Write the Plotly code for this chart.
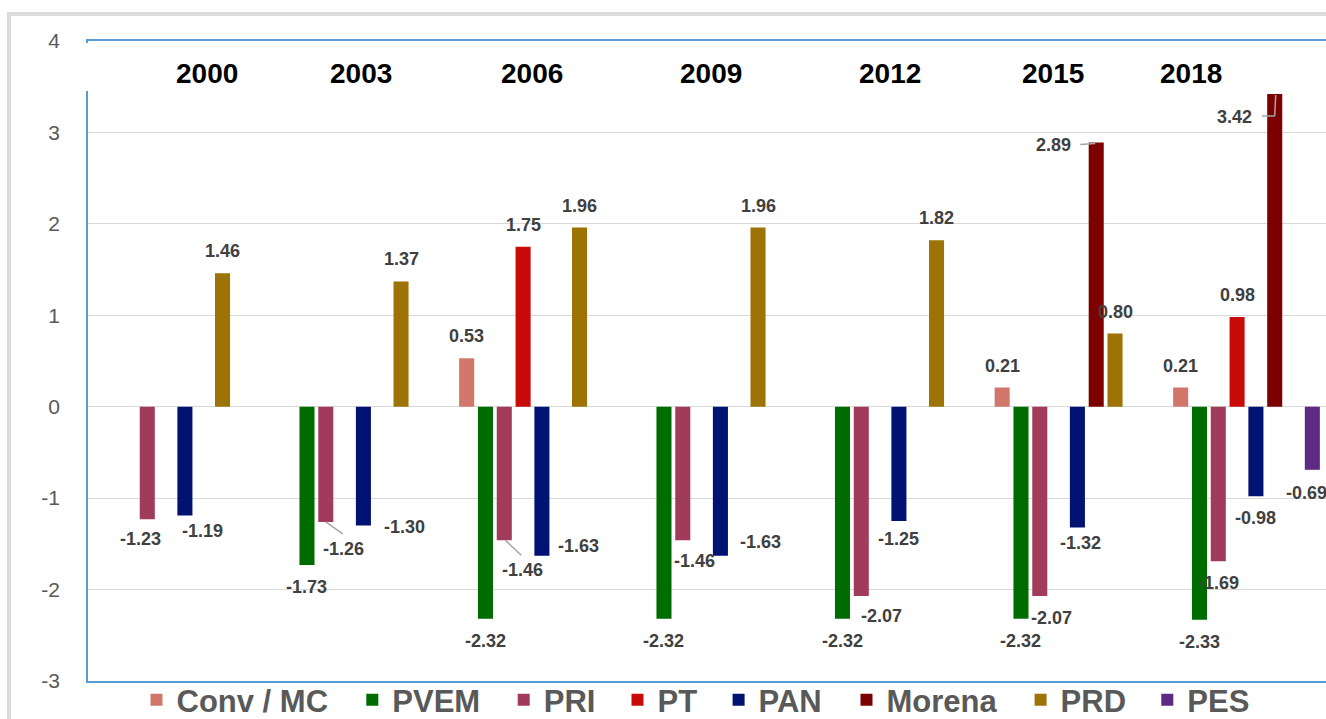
import plotly.graph_objects as go

# ---------------- data ----------------
years = ["2000", "2003", "2006", "2009", "2012", "2015", "2018"]
parties = ["Conv / MC", "PVEM", "PRI", "PT", "PAN", "Morena", "PRD", "PES"]

conv_mc = [None, None, 0.53, None, None, 0.21, 0.21]
pvem = [None, -1.73, -2.32, -2.32, -2.32, -2.32, -2.33]
pri = [-1.23, -1.26, -1.46, -1.46, -2.07, -2.07, -1.69]
pt = [None, None, 1.75, None, None, None, 0.98]
pan = [-1.19, -1.30, -1.63, -1.63, -1.25, -1.32, -0.98]
morena = [None, None, None, None, None, 2.89, 3.42]
prd = [1.46, 1.37, 1.96, 1.96, 1.82, 0.80, None]
pes = [None, None, None, None, None, None, -0.69]

series = [conv_mc, pvem, pri, pt, pan, morena, prd, pes]
y_ticks = [-3, -2, -1, 0, 1, 2, 3, 4]

# ---------------- styles / layout ----------------
colors = ["#d0766a", "#006c00", "#a13b5b", "#c90a0a", "#001272", "#7d0000", "#9c7304", "#5e2a84"]
FONT = "Liberation Sans, Arial, sans-serif"
W, H = 1326, 719
ML, MT, MB, MR = 88, 41, 38, 0
PLOT_W = W - ML - MR
PLOT_H = H - MT - MB
BAND = 178.5                 # px per category
FIRST_CENTER = 175.5         # px of first category centre
BARGAP = 0.157
BARGROUPGAP = 0.2
SLOT = (1 - BARGAP) / len(parties)

x0 = (ML - FIRST_CENTER) / BAND
x1 = x0 + PLOT_W / BAND


def py(p):  # pixel y -> paper y
    return (H - MB - p) / PLOT_H


def px(p):  # pixel x -> paper x
    return (p - ML) / PLOT_W


# legend entry positions (px of the colour square centre)
legend_square_x = [158.5, 374.3, 525.7, 639.5, 740.6, 868.5, 1042.6, 1169.3]
LEGEND_TOP = 673

# year label horizontal shifts (px) relative to category centre
year_label_shift = [31, 6.5, -0.5, 0, 0.5, -15, -55.5]

# data-label offsets (px; dx right, dy down from bar end); default +-22 vertical
DEFAULT_DY = 22
label_offsets = {
    ("PRI", "2000"): (-7, 20),
    ("PAN", "2000"): (18, 15),
    ("PRI", "2003"): (18, 27),
    ("PAN", "2003"): (41, 1),
    ("PRI", "2006"): (18, 30),
    ("PAN", "2006"): (37, -10),
    ("PRI", "2009"): (12, 21),
    ("PAN", "2009"): (40, -14),
    ("PRI", "2012"): (20, 20),
    ("PAN", "2012"): (0, 18),
    ("PRI", "2015"): (12, 22),
    ("PAN", "2015"): (3, 16),
    ("Morena", "2015"): (-43, 3),
    ("Morena", "2018"): (-40, 23),
    ("PES", "2018"): (-6, 23),
}
# leader lines: list of segments (dx0, dy0, dx1, dy1) in px from bar end
leaders = {
    ("PRI", "2003"): [(0, 0, 17, 12)],
    ("PRI", "2006"): [(1, 0, 17, 15)],
    ("Morena", "2015"): [(-1, 1, -16, 2)],
    ("Morena", "2018"): [(1, 1, 0, 22), (0, 22, -13, 22)],
}

fig = go.Figure()
legend_layouts = {}
for i, (name, vals, col) in enumerate(zip(parties, series, colors)):
    lg = "legend" if i == 0 else f"legend{i + 1}"
    fig.add_trace(go.Bar(
        x=years, y=vals, name=name, legend=lg,
        marker=dict(color=col, line=dict(width=0)),
        hovertemplate="%{x} " + name + ": %{y:.2f}<extra></extra>",
    ))
    legend_layouts[lg] = dict(
        orientation="h", x=px(legend_square_x[i] - 22), xanchor="left",
        y=py(LEGEND_TOP), yanchor="top",
        font=dict(family=FONT, size=31, color="#595959", weight="bold"),
        bgcolor="rgba(0,0,0,0)", borderwidth=0, itemwidth=30,
        itemclick=False, itemdoubleclick=False,
    )

annotations = []
shapes = []

# data labels
for i, (name, vals) in enumerate(zip(parties, series)):
    for k, (yr, v) in enumerate(zip(years, vals)):
        if v is None:
            continue
        xc = k + (i - (len(parties) - 1) / 2) * SLOT
        dx, dy = label_offsets.get((name, yr), (0, -DEFAULT_DY if v >= 0 else DEFAULT_DY))
        annotations.append(dict(
            x=xc, y=v, xref="x", yref="y", text=f"{v:.2f}", showarrow=False,
            xshift=dx, yshift=-dy, xanchor="center", yanchor="middle",
            font=dict(family=FONT, size=18, color="#404040", weight="bold"),
        ))
        for seg in leaders.get((name, yr), []):
            shapes.append(dict(
                type="line", xref="x", yref="y",
                xsizemode="pixel", ysizemode="pixel", xanchor=xc, yanchor=v,
                x0=seg[0], y0=-seg[1], x1=seg[2], y1=-seg[3],
                line=dict(color="#a6a6a6", width=1.5), layer="above",
            ))

# year labels at the top
for k, yr in enumerate(years):
    annotations.append(dict(
        x=k, y=py(73), xref="x", yref="paper", text=yr, showarrow=False,
        xshift=year_label_shift[k], xanchor="center", yanchor="middle",
        font=dict(family=FONT, size=28, color="#000000", weight="bold"),
    ))

# outer chart frame
shapes.append(dict(
    type="rect", xref="paper", yref="paper",
    x0=px(9), x1=px(W + 40), y0=py(H + 40), y1=py(14),
    line=dict(color="#dcdcdc", width=4), fillcolor="rgba(0,0,0,0)", layer="above",
))
# white box behind the year labels hiding the top of the value axis line
shapes.append(dict(
    type="rect", xref="paper", yref="paper",
    x0=px(85), x1=px(92), y0=py(91), y1=py(43),
    line=dict(width=0), fillcolor="white", layer="above",
))

fig.update_layout(
    width=W, height=H,
    margin=dict(l=ML, r=MR, t=MT, b=MB, autoexpand=False),
    paper_bgcolor="white", plot_bgcolor="white",
    barmode="group", bargap=BARGAP, bargroupgap=BARGROUPGAP,
    font=dict(family=FONT, color="#595959"),
    xaxis=dict(
        type="category", range=[x0, x1], showticklabels=False, ticks="",
        showgrid=False, showline=True, mirror=True,
        linecolor="#5b9bd5", linewidth=2, zeroline=False, fixedrange=True,
    ),
    yaxis=dict(
        range=[-3, 4], tickvals=y_ticks, ticktext=[str(t) for t in y_ticks],
        showgrid=True, gridcolor="#d9d9d9", gridwidth=1.3, zeroline=False,
        showline=True, linecolor="#5b9bd5", linewidth=1.5, ticks="",
        tickfont=dict(family=FONT, size=21, color="#595959"),
        ticklabelstandoff=22, fixedrange=True,
    ),
    annotations=annotations,
    shapes=shapes,
    showlegend=True,
    **legend_layouts,
)

fig.write_html(
    "out.html",
    config={"displayModeBar": False},
    post_script="document.body.style.margin='0';document.body.style.overflow='hidden';",
)
